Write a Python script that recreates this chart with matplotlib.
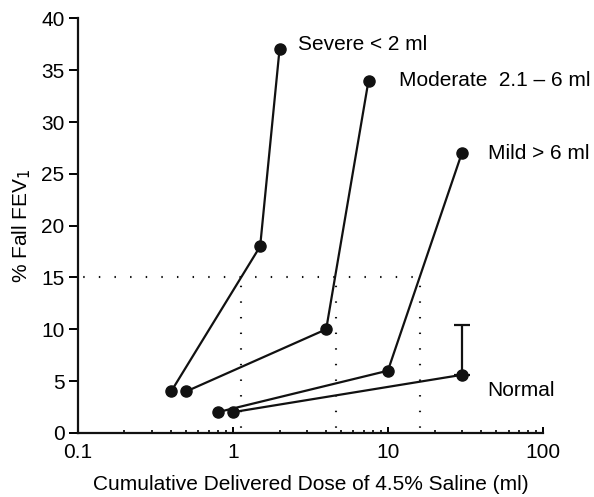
import matplotlib
matplotlib.use("Agg")
import matplotlib.pyplot as plt
from matplotlib.ticker import LogLocator, NullFormatter, FixedLocator, FixedFormatter

plt.rcParams["font.family"] = ["Liberation Sans", "DejaVu Sans"]

# Dose (ml) and % fall in FEV1 for each severity group
severe_dose = [0.4, 1.5, 2.0]
severe_fall = [4, 18, 37]
moderate_dose = [0.5, 4.0, 7.5]
moderate_fall = [4, 10, 34]
mild_dose = [0.8, 10, 30]
mild_fall = [2, 6, 27]
normal_dose = [1.0, 30]
normal_fall = [2, 5.6]
normal_err_top = 10.4

# PD15 doses where each curve crosses 15 % fall
threshold = 15
pd15 = [1.13, 4.6, 16.0]

labels = ["Severe < 2 ml", "Moderate  2.1 \u2013 6 ml", "Mild > 6 ml", "Normal"]

fig = plt.figure(figsize=(5.94, 4.97), dpi=100)
ax = fig.add_axes([0.131, 0.129, 0.783, 0.834])

line_kw = dict(color="#111111", lw=1.6, marker="o", ms=8, solid_capstyle="round")
ax.plot(severe_dose, severe_fall, **line_kw)
ax.plot(moderate_dose, moderate_fall, **line_kw)
ax.plot(mild_dose, mild_fall, **line_kw)
ax.plot(normal_dose, normal_fall, **line_kw)
ax.errorbar([normal_dose[-1]], [normal_fall[-1]],
            yerr=[[0], [normal_err_top - normal_fall[-1]]],
            fmt="none", ecolor="#111111", elinewidth=1.6, capsize=6, capthick=1.6)

dots = (5, (0.7, 6.8))
ax.plot([0.1, pd15[-1]], [threshold, threshold], color="#111111", lw=1.5, ls=dots)
for d in pd15:
    ax.plot([d, d], [0, threshold], color="#111111", lw=1.5, ls=dots)

fs = 15
ax.text(2.63, 37.5, labels[0], fontsize=fs, va="center", ha="left")
ax.text(11.8, 34.0, labels[1], fontsize=fs, va="center", ha="left")
ax.text(44, 27.0, labels[2], fontsize=fs, va="center", ha="left")
ax.text(44, 4.1, labels[3], fontsize=fs, va="center", ha="left")

ax.set_xscale("log")
ax.set_xlim(0.1, 100)
ax.set_ylim(0, 40)
ax.xaxis.set_major_locator(FixedLocator([0.1, 1, 10, 100]))
ax.xaxis.set_major_formatter(FixedFormatter(["0.1", "1", "10", "100"]))
ax.xaxis.set_minor_locator(LogLocator(base=10, subs=range(2, 10)))
ax.xaxis.set_minor_formatter(NullFormatter())
ax.set_yticks(range(0, 41, 5))

for s in ["top", "right"]:
    ax.spines[s].set_visible(False)
for s in ["left", "bottom"]:
    ax.spines[s].set_linewidth(1.6)
    ax.spines[s].set_color("#111111")

ax.tick_params(axis="x", which="major", direction="in", length=4, width=1.4, labelsize=fs, pad=7)
ax.tick_params(axis="x", which="minor", direction="in", length=2.5, width=1.2)
ax.tick_params(axis="y", which="major", direction="out", length=6.5, width=1.4, labelsize=fs, pad=3)

ax.set_xlabel("Cumulative Delivered Dose of 4.5% Saline (ml)", fontsize=fs, labelpad=10)
ax.set_ylabel("% Fall FEV$_1$", fontsize=fs, labelpad=6)

fig.savefig("out.png", dpi=100)
